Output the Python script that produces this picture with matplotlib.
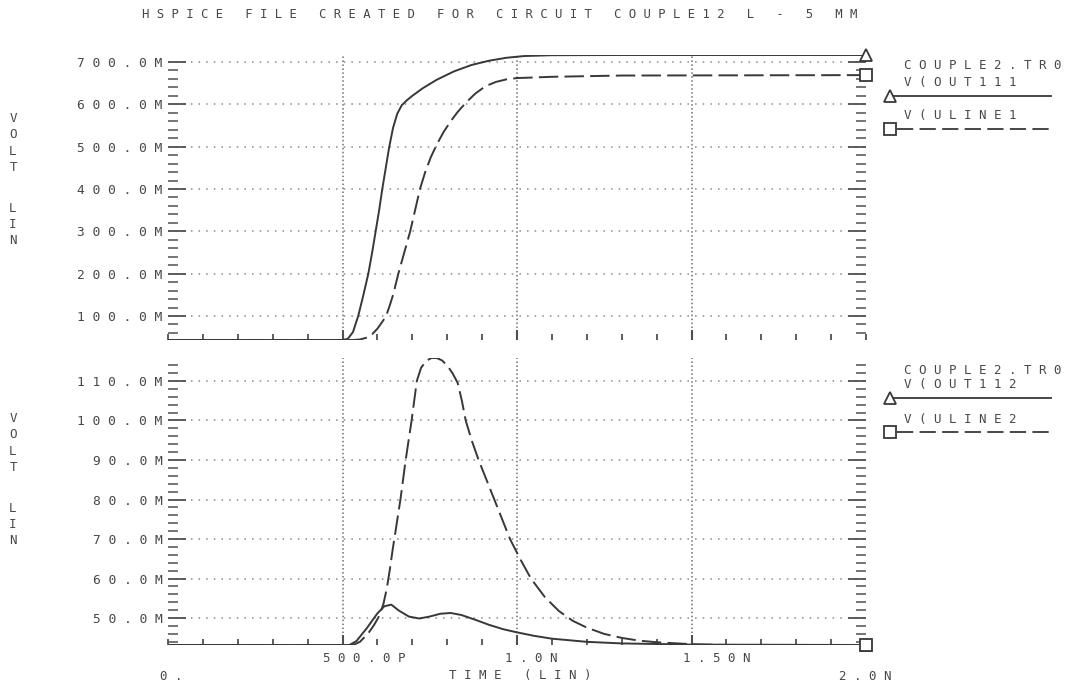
import numpy as np
import matplotlib
matplotlib.use("Agg")
import matplotlib.pyplot as plt
from matplotlib.ticker import MultipleLocator, FixedLocator, FuncFormatter
from matplotlib.transforms import blended_transform_factory

# ---- data (time in ns, voltage in mV) ----
t_out111 = [0.0, 0.50, 0.515, 0.53, 0.545, 0.56, 0.574, 0.585, 0.595, 0.605, 0.614,
            0.624, 0.634, 0.645, 0.657, 0.67, 0.685, 0.70, 0.73, 0.77, 0.82, 0.87,
            0.92, 0.97, 1.02, 1.1, 1.3, 2.0]
v_out111 = [43.3, 43.3, 46, 62, 100, 150, 200, 250, 300, 350, 400,
            450, 500, 545, 578, 598, 610, 620, 638, 658, 678, 693,
            703, 710, 714, 716, 716.5, 716.5]

t_uline1 = [0.0, 0.53, 0.55, 0.57, 0.585, 0.60, 0.613, 0.625, 0.635, 0.645, 0.66,
            0.677, 0.694, 0.708, 0.722, 0.737, 0.753, 0.77, 0.79, 0.81, 0.83,
            0.855, 0.88, 0.91, 0.94, 0.97, 1.0, 1.1, 1.3, 2.0]
v_uline1 = [43.3, 43.3, 44.5, 49, 57, 70, 85, 100, 124, 150, 200,
            250, 300, 350, 400, 440, 475, 505, 535, 560, 582,
            605, 625, 643, 653, 659, 662, 665, 668, 669]

t_out112 = [0.0, 0.52, 0.54, 0.57, 0.60, 0.62, 0.64, 0.66, 0.69, 0.72, 0.75,
            0.78, 0.81, 0.84, 0.88, 0.92, 0.96, 1.0, 1.05, 1.1, 1.2, 1.3,
            1.5, 2.0]
v_out112 = [43.2, 43.2, 44.2, 47.5, 51.2, 53.0, 53.4, 52.0, 50.4, 49.9, 50.4,
            51.1, 51.3, 50.8, 49.6, 48.3, 47.2, 46.4, 45.5, 44.8, 44.0, 43.6,
            43.3, 43.2]

t_uline2 = [0.0, 0.53, 0.55, 0.575, 0.59, 0.605, 0.617, 0.627, 0.636, 0.644, 0.652,
            0.666, 0.681, 0.698, 0.713, 0.725, 0.74, 0.755, 0.77, 0.785, 0.80,
            0.815, 0.83, 0.842, 0.853, 0.87, 0.89, 0.935, 0.98, 1.01, 1.04,
            1.08, 1.12, 1.16, 1.2, 1.25, 1.3, 1.35, 1.4, 1.5, 1.6, 2.0]
v_uline2 = [43.2, 43.2, 44.0, 46.3, 48.2, 50.5, 53.5, 57.5, 62.5, 67.5, 72.0,
            80, 90, 100, 110, 113.3, 115.1, 115.8, 115.8, 115.2, 113.9,
            112.0, 109.5, 105, 100, 95, 90, 80, 70, 64.8, 60,
            55.3, 51.8, 49.3, 47.6, 46.0, 45.0, 44.3, 43.9, 43.4, 43.2, 43.2]

top_ylim = (43.3, 716.5)
bot_ylim = (43.2, 115.8)
top_majors = [100, 200, 300, 400, 500, 600, 700]
bot_majors = [50, 60, 70, 80, 90, 100, 110]
x_labels = ["0.", "500.0P", "1.0N", "1.50N", "2.0N"]
x_label_pos = [0.0, 0.5, 1.0, 1.5, 2.0]

title = "HSPICE FILE CREATED FOR CIRCUIT COUPLE12 L - 5 MM"
legend_top = ["COUPLE2.TR0", "V(OUT111", "V(ULINE1"]
legend_bot = ["COUPLE2.TR0", "V(OUT112", "V(ULINE2"]

INK = "#383838"
TXT = "#474747"
GRID = "#8a8a8a"
VGRID = "#6e6e6e"
FONT = "DejaVu Sans Mono"
FS_Y = 9.3
FS = 9.0
FS_TITLE = 8.85


def sp(s):
    return " ".join(s)


W, H = 1068, 686
fig = plt.figure(figsize=(W / 100, H / 100), dpi=100)
fig.patch.set_facecolor("white")

left_px, right_px = 168, 866


def axes_rect(top_px, bottom_px):
    return [left_px / W, 1 - bottom_px / H, (right_px - left_px) / W,
            (bottom_px - top_px) / H]


ax1 = fig.add_axes(axes_rect(55, 340))
ax2 = fig.add_axes(axes_rect(358, 645))

dash = (0, (10, 3.2))


def style_axes(ax, ylim, majors, minor_step):
    ax.set_xlim(0, 2.0)
    ax.set_ylim(*ylim)
    for s in ax.spines.values():
        s.set_visible(False)
    ax.yaxis.set_major_locator(FixedLocator(majors))
    ax.yaxis.set_minor_locator(MultipleLocator(minor_step))
    ax.yaxis.set_major_formatter(FuncFormatter(lambda v, p: sp(f"{v:.1f}M")))
    ax.xaxis.set_major_locator(FixedLocator([0.5, 1.0, 1.5]))
    ax.xaxis.set_minor_locator(MultipleLocator(0.1))
    ax.tick_params(axis="y", which="both", direction="in", left=True, right=True,
                   colors="#505050", labelcolor=TXT, labelsize=FS_Y, pad=4)
    ax.tick_params(axis="y", which="major", length=13, width=1.3)
    ax.tick_params(axis="y", which="minor", length=7, width=1.1)
    ax.tick_params(axis="x", which="both", direction="in", bottom=True, top=False,
                   colors="#505050", labelbottom=False)
    ax.tick_params(axis="x", which="major", length=7, width=1.5)
    ax.tick_params(axis="x", which="minor", length=4, width=1.3)
    for lab in ax.get_yticklabels():
        lab.set_fontfamily(FONT)
    # dotted grid
    for y in majors:
        ax.axhline(y, color=GRID, lw=1.1, ls=(0, (1, 4)), zorder=0)
    for x in [0.5, 1.0, 1.5]:
        ax.axvline(x, color=VGRID, lw=1.1, ls=(0, (1, 1.6)), zorder=0)


style_axes(ax1, top_ylim, top_majors, 20)
style_axes(ax2, bot_ylim, bot_majors, 2)

# curves
ax1.plot(t_out111, v_out111, color=INK, lw=1.4, zorder=3)
ax1.plot(t_uline1, v_uline1, color=INK, lw=1.4, ls=dash, zorder=3)
ax2.plot(t_out112, v_out112, color=INK, lw=1.4, zorder=3)
ax2.plot(t_uline2, v_uline2, color=INK, lw=1.4, ls=dash, zorder=3)

# end markers
mk = dict(mfc="white", mec=INK, mew=1.3, clip_on=False, zorder=5)
ax1.plot(t_out111[-1], v_out111[-1], marker="^", ms=9, **mk)
ax1.plot(t_uline1[-1], v_uline1[-1], marker="s", ms=8, **mk)
ax2.plot(t_out112[-1], v_out112[-1], marker="^", ms=9, **mk)
ax2.plot(t_uline2[-1], v_uline2[-1], marker="s", ms=8, **mk)


def draw_legend(ax, labels, ys):
    x0, x1, xt = 1.035, 1.265, 1.054
    kw = dict(transform=ax.transAxes, clip_on=False)
    ax.text(xt, ys[0], sp(labels[0]), fontsize=FS, family=FONT, color=TXT,
            va="center", ha="left", **kw)
    ax.text(xt, ys[1], sp(labels[1]), fontsize=FS, family=FONT, color=TXT,
            va="center", ha="left", **kw)
    ax.plot([x0, x1], [ys[2], ys[2]], color=INK, lw=1.3, **kw)
    ax.plot([x0], [ys[2]], marker="^", ms=9, mfc="white", mec=INK, mew=1.3, **kw)
    ax.text(xt, ys[3], sp(labels[2]), fontsize=FS, family=FONT, color=TXT,
            va="center", ha="left", **kw)
    ax.plot([x0 + 0.01, x1], [ys[4], ys[4]], color=INK, lw=1.3, ls=(0, (9, 3.5)), **kw)
    ax.plot([x0], [ys[4]], marker="s", ms=8, mfc="white", mec=INK, mew=1.3, **kw)


draw_legend(ax1, legend_top, [0.963, 0.903, 0.856, 0.786, 0.740])
draw_legend(ax2, legend_bot, [0.958, 0.906, 0.861, 0.784, 0.742])

# x labels under the lower panel
tr = blended_transform_factory(ax2.transData, ax2.transAxes)
offsets = {0.0: (3, -31), 0.5: (22, -14), 1.0: (14, -14), 1.5: (25, -14), 2.0: (-1, -31)}
for lab, x in zip(x_labels, x_label_pos):
    dx, dy = offsets[x]
    ax2.annotate(sp(lab), xy=(x, 0), xycoords=tr, xytext=(dx, dy),
                 textcoords="offset pixels", ha="center", va="center",
                 fontsize=FS, family=FONT, color=TXT, annotation_clip=False)
ax2.annotate(sp("TIME (LIN)"), xy=(1.0, 0), xycoords=tr, xytext=(3, -31),
             textcoords="offset pixels", ha="center", va="center",
             fontsize=FS, family=FONT, color=TXT, annotation_clip=False)

# title
fig.text(500 / W, 1 - 15 / H, sp(title), ha="center", va="center",
         fontsize=FS_TITLE, family=FONT, color=TXT)

# vertical axis captions
for yc_volt, yc_lin in [(143, 225), (443, 524)]:
    fig.text(13 / W, 1 - yc_volt / H, "V\nO\nL\nT", ha="center", va="center",
             fontsize=FS, family=FONT, color=TXT, linespacing=1.35)
    fig.text(13 / W, 1 - yc_lin / H, "L\nI\nN", ha="center", va="center",
             fontsize=FS, family=FONT, color=TXT, linespacing=1.3)

fig.savefig("out.png", dpi=100, facecolor="white")
